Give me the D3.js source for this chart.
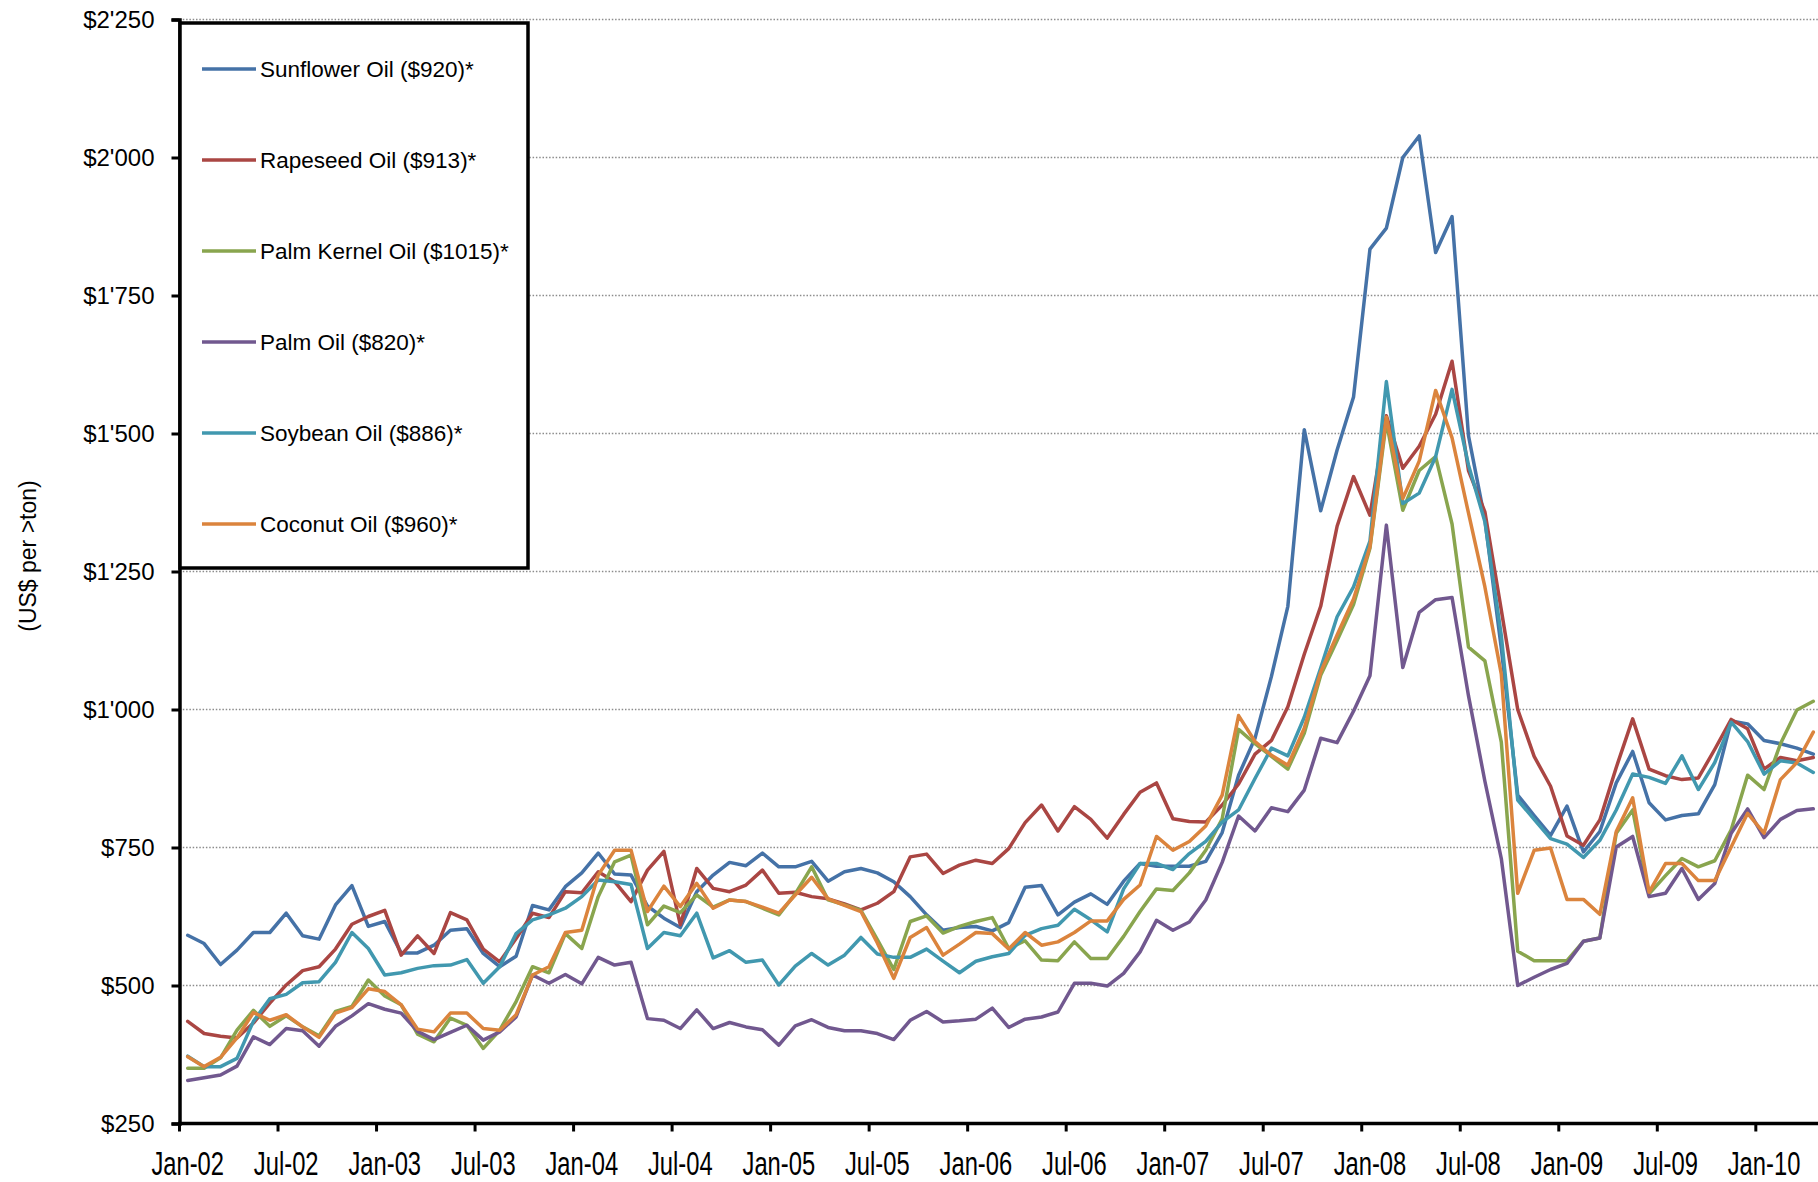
<!DOCTYPE html>
<html>
<head>
<meta charset="utf-8">
<script src="https://cdn.jsdelivr.net/npm/d3@7"></script>
<style>
  html, body { margin: 0; padding: 0; background: #fff; }
  svg { display: block; }
  text { font-family: "Liberation Sans", Arial, sans-serif; fill: #000; }
</style>
</head>
<body>
<svg id="chart" width="1818" height="1182"></svg>
<script>
const categories = ("Jan-02 Feb-02 Mar-02 Apr-02 May-02 Jun-02 Jul-02 Aug-02 Sep-02 Oct-02 Nov-02 Dec-02 " +
  "Jan-03 Feb-03 Mar-03 Apr-03 May-03 Jun-03 Jul-03 Aug-03 Sep-03 Oct-03 Nov-03 Dec-03 " +
  "Jan-04 Feb-04 Mar-04 Apr-04 May-04 Jun-04 Jul-04 Aug-04 Sep-04 Oct-04 Nov-04 Dec-04 " +
  "Jan-05 Feb-05 Mar-05 Apr-05 May-05 Jun-05 Jul-05 Aug-05 Sep-05 Oct-05 Nov-05 Dec-05 " +
  "Jan-06 Feb-06 Mar-06 Apr-06 May-06 Jun-06 Jul-06 Aug-06 Sep-06 Oct-06 Nov-06 Dec-06 " +
  "Jan-07 Feb-07 Mar-07 Apr-07 May-07 Jun-07 Jul-07 Aug-07 Sep-07 Oct-07 Nov-07 Dec-07 " +
  "Jan-08 Feb-08 Mar-08 Apr-08 May-08 Jun-08 Jul-08 Aug-08 Sep-08 Oct-08 Nov-08 Dec-08 " +
  "Jan-09 Feb-09 Mar-09 Apr-09 May-09 Jun-09 Jul-09 Aug-09 Sep-09 Oct-09 Nov-09 Dec-09 " +
  "Jan-10 Feb-10 Mar-10 Apr-10").split(" ");

const sunflower = [591,576,538,564,596,596,631,590,584,646,
  681,607,616,559,559,573,600,603,558,534,
  553,645,637,679,704,740,702,700,644,622,
  605,670,700,723,717,740,715,715,725,689,
  706,712,704,688,661,628,600,605,607,599,
  614,678,681,628,651,666,647,689,721,716,
  716,716,725,777,881,948,1060,1187,1507,1360,
  1470,1566,1834,1872,2000,2039,1828,1893,1496,1344,
  1111,845,808,772,825,742,779,867,924,831,
  800,808,811,864,979,974,944,938,930,919];

const rapeseed = [435,413,408,405,432,468,501,527,534,566,
  611,625,636,555,590,558,632,619,566,543,
  585,631,623,670,668,706,688,652,709,743,
  610,712,676,670,682,709,667,669,661,657,
  648,637,649,670,733,738,703,718,727,721,
  748,795,827,780,824,801,767,810,850,867,
  802,797,796,827,865,919,944,1005,1100,1187,
  1332,1422,1352,1532,1437,1477,1535,1631,1433,1358,
  1180,1000,915,861,771,754,800,895,983,892,
  880,873,876,928,982,965,892,913,907,913];

const palmKernel = [350,350,369,419,455,426,445,425,409,453,
  462,510,481,465,412,398,441,428,386,419,
  471,534,523,594,567,661,724,736,610,644,
  632,664,642,655,652,640,628,666,715,655,
  646,636,583,529,616,626,595,607,616,623,
  567,581,546,545,579,549,549,589,634,675,
  672,704,745,802,964,938,915,892,957,1062,
  1125,1190,1292,1522,1361,1433,1458,1336,1113,1088,
  941,562,545,545,545,580,586,776,818,666,
  699,730,715,726,782,881,855,938,999,1015];

const palm = [328,333,338,354,407,393,422,418,390,426,
  445,467,457,450,417,402,415,428,401,416,
  443,519,504,520,503,551,537,542,440,437,
  422,456,422,433,425,420,392,427,438,424,
  418,418,413,402,437,453,434,436,439,459,
  424,439,443,452,504,504,499,522,561,618,
  600,615,655,723,807,780,822,815,854,948,
  940,997,1061,1334,1076,1176,1199,1203,1025,870,
  730,500,515,529,540,580,586,751,770,661,
  667,712,656,685,776,820,768,801,817,820];

const soybean = [372,353,353,368,435,476,484,505,507,542,
  596,567,519,523,531,536,537,547,504,534,
  594,619,628,640,661,691,688,683,567,596,
  590,631,550,563,542,546,501,535,558,537,
  555,587,557,551,551,566,544,523,544,552,
  558,591,603,609,638,619,597,675,721,721,
  710,739,761,796,818,875,930,916,986,1075,
  1168,1222,1305,1594,1373,1392,1458,1580,1443,1340,
  1134,836,801,766,756,732,763,818,883,877,
  866,916,855,904,977,942,883,907,903,886];

const coconut = [371,353,370,405,451,437,447,425,406,450,
  460,494,489,465,421,416,450,450,422,419,
  447,519,534,596,600,700,745,745,634,680,
  643,685,640,655,652,642,631,664,696,657,
  645,634,577,513,587,605,555,575,596,594,
  566,596,573,579,596,617,617,656,682,770,
  745,761,789,845,989,942,917,899,966,1068,
  1135,1200,1295,1530,1382,1450,1578,1492,1356,1222,
  1064,667,745,749,656,656,629,779,840,669,
  721,721,690,690,751,812,776,873,904,959];

const seriesNames = ["Sunflower Oil ($920)*", "Rapeseed Oil ($913)*", "Palm Kernel Oil ($1015)*",
  "Palm Oil ($820)*", "Soybean Oil ($886)*", "Coconut Oil ($960)*"];
const seriesValues = [sunflower, rapeseed, palmKernel, palm, soybean, coconut];
const seriesColors = ["#4572A7", "#AA4643", "#89A54E", "#71588F", "#4198AF", "#DB843D"];

const yTicks = [250, 500, 750, 1000, 1250, 1500, 1750, 2000, 2250];
const yTickLabels = ["$250", "$500", "$750", "$1'000", "$1'250", "$1'500", "$1'750", "$2'000", "$2'250"];
const xTickLabels = ["Jan-02","Jul-02","Jan-03","Jul-03","Jan-04","Jul-04","Jan-05","Jul-05","Jan-06",
  "Jul-06","Jan-07","Jul-07","Jan-08","Jul-08","Jan-09","Jul-09","Jan-10"];
const yTitle = "(US$ per >ton)";

const svg = d3.select("#chart");
const plotLeft = 179.5, monthW = 16.42, plotTop = 19.5, plotBottom = 1123.5;

const x = d3.scaleBand().domain(categories).range([plotLeft, plotLeft + categories.length * monthW]).padding(0);
const xPos = c => x(c) + x.bandwidth() / 2;
const y = d3.scaleLinear().domain([250, 2250]).range([plotBottom, plotTop]);

// gridlines
svg.append("g").selectAll("line").data(yTicks.filter(v => v > 250)).join("line")
  .attr("x1", plotLeft).attr("x2", 1818)
  .attr("y1", d => y(d)).attr("y2", d => y(d))
  .attr("stroke", "#8c8c8c").attr("stroke-width", 1.3).attr("stroke-dasharray", "1.5,1.8");

// series lines
const line = d3.line().x((d, i) => xPos(categories[i])).y(d => y(d));
svg.append("g").selectAll("path").data(seriesValues).join("path")
  .attr("d", d => line(d))
  .attr("fill", "none")
  .attr("stroke", (d, i) => seriesColors[i])
  .attr("stroke-width", 3.5)
  .attr("stroke-linejoin", "round")
  .attr("stroke-linecap", "round");

// y axis
const yAxis = d3.axisLeft(y).tickValues(yTicks).tickSize(8).tickPadding(17)
  .tickFormat((d, i) => yTickLabels[i]);
const gy = svg.append("g").attr("transform", `translate(${plotLeft},0)`).call(yAxis);
gy.select(".domain").attr("stroke", "#000").attr("stroke-width", 3.5);
gy.selectAll(".tick line").attr("stroke", "#000").attr("stroke-width", 3);
gy.selectAll(".tick text").attr("font-size", 24).attr("font-family", '"Liberation Sans", Arial, sans-serif').attr("fill", "#000");

// x axis (ticks at month boundaries every 6 months)
const tickIdx = xTickLabels.map(l => categories.indexOf(l));
const gx = svg.append("g");
gx.append("line").attr("x1", plotLeft - 1.5).attr("x2", 1818).attr("y1", plotBottom).attr("y2", plotBottom)
  .attr("stroke", "#000").attr("stroke-width", 3.5);
gx.selectAll("line.tk").data(tickIdx).join("line").attr("class", "tk")
  .attr("x1", d => x(categories[d])).attr("x2", d => x(categories[d]))
  .attr("y1", plotBottom).attr("y2", plotBottom + 8)
  .attr("stroke", "#000").attr("stroke-width", 3);
gx.selectAll("g.lbl").data(xTickLabels).join("g").attr("class", "lbl")
  .attr("transform", d => `translate(${xPos(d)},1175)`)
  .append("text").attr("transform", "scale(0.72,1)")
  .attr("text-anchor", "middle").attr("font-size", 33).text(d => d);

// y title
svg.append("text").attr("transform", "translate(36,556) rotate(-90)")
  .attr("text-anchor", "middle").attr("font-size", 23).attr("fill", "#111").text(yTitle);

// legend
const lg = svg.append("g");
lg.append("rect").attr("x", 180).attr("y", 23).attr("width", 348).attr("height", 545)
  .attr("fill", "#fff").attr("stroke", "#000").attr("stroke-width", 3.5);
const items = lg.selectAll("g.item").data(seriesNames).join("g").attr("class", "item")
  .attr("transform", (d, i) => `translate(0,${69 + 91 * i})`);
items.append("line").attr("x1", 202).attr("x2", 256).attr("y1", 0).attr("y2", 0)
  .attr("stroke", (d, i) => seriesColors[i]).attr("stroke-width", 3.5);
items.append("text").attr("x", 260).attr("y", 0).attr("dy", "0.36em")
  .attr("font-size", 22.5).text(d => d);
</script>
</body>
</html>
